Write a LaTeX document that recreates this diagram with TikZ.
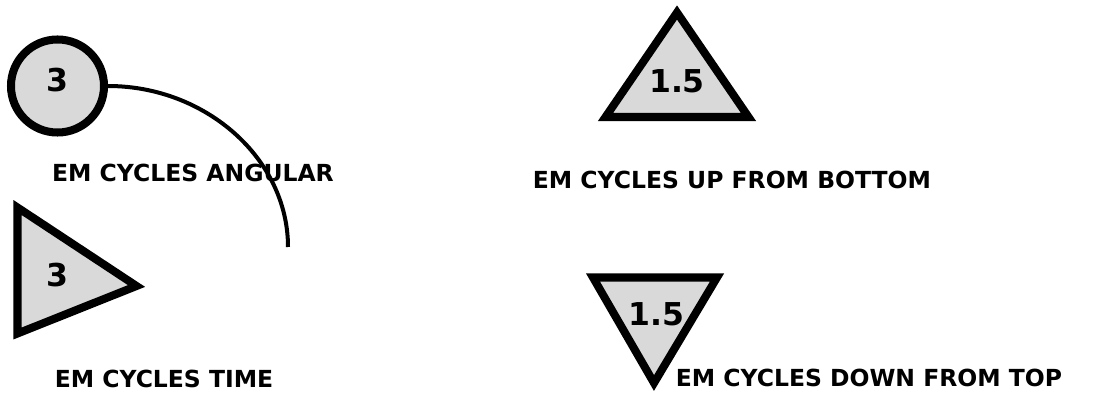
\documentclass[tikz,border=0pt]{standalone}
\usepackage{fontspec}
\setmainfont{DejaVu Sans}
\usepackage{xcolor}
\usepackage{tikz}
\usetikzlibrary{positioning}
\definecolor{shapegray}{RGB}{217, 217, 217}

\begin{document}
\begin{tikzpicture}[
  x=0.025cm, y=0.025cm,
  marker/.style={draw=black, fill=shapegray, line width=5.7pt, miter limit=10},
  ringnode/.style={circle, marker, inner sep=0pt, minimum size=2.325cm},
  cycletext/.style={font=\fontsize{16.7}{20}\selectfont\bfseries, inner sep=0pt},
  numtext/.style={font=\fontsize{22.4}{26}\selectfont\bfseries, inner sep=0pt},
  sweep/.style={line width=2.85pt}
]
\useasboundingbox (0,0) rectangle (1119,-394);

% angular
\node[ringnode] (angular) at (57.5,-86) {};
\node[numtext] (angularnum) at (57,-80.5) {3};
\node[cycletext] (angulartext) at (193,-173) {EM CYCLES ANGULAR};
\coordinate (sweepend) at (288,-247);
\draw[sweep] (angular.east) .. controls +(98,0) and +(0,88) .. (sweepend);

% time
\draw[marker] (17.5,-207.5) -- (136.5,-286) -- (17.5,-333.5) -- cycle;
\node[numtext] (timenum) at (57,-275) {3};
\node[cycletext] (timetext) at (164,-378.5) {EM CYCLES TIME};

% up from bottom
\draw[marker] (677,-12.5) -- (748.5,-117) -- (605.5,-117) -- cycle;
\node[numtext] (upnum) at (677,-81.5) {1.5};
\node[cycletext] (uptext) at (732,-180) {EM CYCLES UP FROM BOTTOM};

% down from top
\draw[marker] (593,-277.5) -- (717,-277.5) -- (654,-383) -- cycle;
\node[numtext] (downnum) at (656,-314.5) {1.5};
\node[cycletext] (downtext) at (869,-378) {EM CYCLES DOWN FROM TOP};
\end{tikzpicture}
\end{document}
